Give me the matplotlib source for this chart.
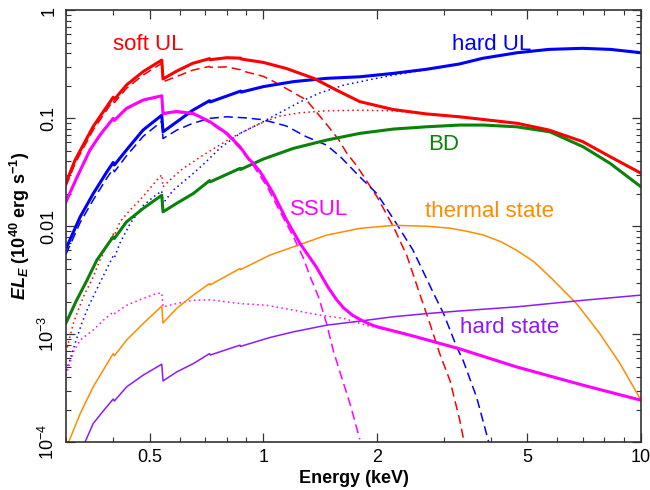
import matplotlib
matplotlib.use("Agg")

import matplotlib.pyplot as plt
from matplotlib.ticker import FixedLocator, LogLocator, NullFormatter

# -----------------------------
# DATA  (energy in keV, E*L_E in 1e40 erg/s)
# -----------------------------
E_SOFT_TOT = [0.30, 0.317, 0.354, 0.400, 0.403, 0.434, 0.48, 0.538, 0.542, 0.59, 0.65, 0.72, 0.723,
              0.80, 0.87, 0.873, 1.0, 1.15, 1.36, 1.56, 1.80, 2.2, 2.7, 3.3, 4.7, 5.7, 7.0, 8.3, 10.0]
SOFT_TOT   = [0.0253, 0.041, 0.084, 0.157, 0.150, 0.204, 0.271, 0.347, 0.232, 0.275, 0.324, 0.358, 0.350,
              0.365, 0.362, 0.355, 0.33, 0.29, 0.235, 0.183, 0.143, 0.121, 0.110, 0.1035, 0.090, 0.078, 0.061, 0.044, 0.031]

E_SOFT_DISK = [0.30, 0.317, 0.354, 0.40, 0.403, 0.434, 0.48, 0.538, 0.542, 0.59, 0.65, 0.72, 0.723, 0.80,
               0.87, 0.873, 1.0, 1.08, 1.3, 1.47, 1.58, 1.66, 1.77, 2.0, 2.21, 2.40, 2.60, 2.76, 2.93, 3.12, 3.31, 3.40]
SOFT_DISK   = [0.0235, 0.038, 0.078, 0.146, 0.140, 0.190, 0.252, 0.324, 0.218, 0.245, 0.280, 0.303, 0.297, 0.300,
               0.282, 0.277, 0.245, 0.214, 0.148, 0.088, 0.064, 0.048, 0.036, 0.0187, 0.0099, 0.0053, 0.0023, 0.00125,
               0.00066, 0.00037, 0.00016, 0.0001]

E_SOFT_PL = [0.30, 0.3136, 0.3231, 0.3366, 0.351, 0.369, 0.392, 0.40, 0.403, 0.417, 0.443, 0.471, 0.496, 0.522,
             0.538, 0.542, 0.577, 0.613, 0.652, 0.693, 0.752, 0.832, 0.94, 1.02, 1.106, 1.25, 1.47, 1.80, 2.21,
             2.7, 3.3, 4.7, 5.7, 7.0, 8.3, 10.0]
SOFT_PL   = [0.00068, 0.00125, 0.00167, 0.00238, 0.00316, 0.00485, 0.00743, 0.0085, 0.0082, 0.011, 0.0141,
             0.0175, 0.0216, 0.0268, 0.0300, 0.0232, 0.0287, 0.0344, 0.0396, 0.0457, 0.0545, 0.0675, 0.0836,
             0.0950, 0.105, 0.1127, 0.1175, 0.119, 0.1175, 0.110, 0.1035, 0.090, 0.078, 0.061, 0.044, 0.031]

E_HARD_TOT = [0.30, 0.327, 0.354, 0.385, 0.40, 0.403, 0.434, 0.48, 0.538, 0.542, 0.59, 0.65, 0.72, 0.723,
              0.87, 0.873, 1.0, 1.2, 1.47, 1.8, 2.2, 2.7, 3.3, 3.8, 4.7, 5.7, 7.0, 8.3, 10.0]
HARD_TOT   = [0.0062, 0.0122, 0.020, 0.032, 0.039, 0.037, 0.051, 0.078, 0.107, 0.075, 0.093, 0.119, 0.146, 0.142,
              0.179, 0.175, 0.197, 0.219, 0.235, 0.243, 0.261, 0.285, 0.319, 0.360, 0.406, 0.436, 0.446, 0.436, 0.406]

E_HARD_DISK = [0.30, 0.327, 0.354, 0.385, 0.40, 0.403, 0.434, 0.48, 0.538, 0.542, 0.59, 0.65, 0.72, 0.80, 0.90,
               1.0, 1.15, 1.30, 1.47, 1.6, 1.8, 2.0, 2.25, 2.49, 2.82, 3.0, 3.25, 3.38, 3.67, 3.95]
HARD_DISK   = [0.0055, 0.0108, 0.0175, 0.028, 0.034, 0.032, 0.045, 0.068, 0.094, 0.065, 0.078, 0.090, 0.100,
               0.1035, 0.101, 0.097, 0.085, 0.0675, 0.0565, 0.044, 0.0287, 0.020, 0.0106, 0.006, 0.0024, 0.00155,
               0.00076, 0.00057, 0.00026, 0.0001]

E_HARD_PL = [0.30, 0.307, 0.317, 0.33, 0.344, 0.358, 0.369, 0.392, 0.40, 0.403, 0.417, 0.443, 0.48, 0.511, 0.538,
             0.542, 0.577, 0.613, 0.652, 0.707, 0.767, 0.867, 0.98, 1.1, 1.25, 1.41, 1.63, 1.91, 2.21, 2.7, 3.3,
             3.8, 4.7, 5.7, 7.0, 8.3, 10.0]
HARD_PL   = [0.00046, 0.00057, 0.00082, 0.00125, 0.0018, 0.0024, 0.0030, 0.0046, 0.0053, 0.0051, 0.0070, 0.0105,
             0.0155, 0.0187, 0.0212, 0.0163, 0.0216, 0.0258, 0.0309, 0.040, 0.053, 0.0726, 0.090, 0.112, 0.142,
             0.172, 0.203, 0.228, 0.252, 0.283, 0.318, 0.360, 0.406, 0.436, 0.446, 0.436, 0.406]

E_BD = [0.30, 0.32, 0.341, 0.362, 0.40, 0.403, 0.434, 0.48, 0.538, 0.542, 0.589, 0.652, 0.72, 0.723, 0.867, 0.87,
        1.0, 1.2, 1.47, 1.80, 2.21, 2.71, 3.31, 3.82, 4.68, 5.74, 7.03, 8.28, 10.0]
BD   = [0.00127, 0.00206, 0.00316, 0.00485, 0.0080, 0.0077, 0.011, 0.0146, 0.0194, 0.0136, 0.0163, 0.0201, 0.0265,
        0.0258, 0.0344, 0.0336, 0.042, 0.0527, 0.0629, 0.0726, 0.0796, 0.0836, 0.0867, 0.0867, 0.0836, 0.075,
        0.0545, 0.0383, 0.0232]

E_SSUL_TOT = [0.30, 0.32, 0.347, 0.37, 0.40, 0.403, 0.434, 0.48, 0.538, 0.542, 0.589, 0.652, 0.722, 0.80, 0.867,
              0.912, 0.94, 0.98, 1.02, 1.062, 1.152, 1.25, 1.38, 1.485, 1.56, 1.63, 1.72, 1.80, 1.9, 2.0, 2.44,
              3.31, 4.68, 7.03, 10.0]
SSUL_TOT   = [0.0169, 0.028, 0.0508, 0.071, 0.100, 0.096, 0.124, 0.148, 0.162, 0.111, 0.116, 0.111, 0.093, 0.0726,
              0.0545, 0.0426, 0.0383, 0.032, 0.0255, 0.0201, 0.0114, 0.00692, 0.0042, 0.0027, 0.0021, 0.00175,
              0.0015, 0.00137, 0.00125, 0.00117, 0.00098, 0.00073, 0.000497, 0.000336, 0.000244]

E_SSUL_DISK = [0.30, 0.32, 0.347, 0.37, 0.40, 0.403, 0.434, 0.48, 0.538, 0.542, 0.589, 0.652, 0.722, 0.80, 0.867,
               0.94, 1.02, 1.106, 1.2, 1.275, 1.33, 1.40, 1.47, 1.53, 1.61, 1.695, 1.80]
SSUL_DISK   = [0.0165, 0.0273, 0.0498, 0.0697, 0.0984, 0.0944, 0.122, 0.146, 0.160, 0.109, 0.114, 0.109, 0.091,
               0.0706, 0.0526, 0.0364, 0.0237, 0.0137, 0.0080, 0.0051, 0.0034, 0.0022, 0.00125, 0.00071, 0.0004,
               0.000227, 0.000106]

E_SSUL_PL = [0.30, 0.3136, 0.327, 0.354, 0.377, 0.40, 0.403, 0.434, 0.48, 0.522, 0.538, 0.542, 0.589, 0.652, 0.722,
             0.867, 1.02, 1.2, 1.41, 1.63, 1.88, 2.0, 2.44, 3.31, 4.68, 7.03, 10.0]
SSUL_PL   = [0.000416, 0.00068, 0.00088, 0.00109, 0.00135, 0.0016, 0.00155, 0.00185, 0.00214, 0.00238, 0.0024,
             0.00179, 0.00192, 0.00206, 0.00208, 0.00192, 0.00185, 0.00167, 0.0015, 0.0014, 0.0012, 0.00115,
             0.00097, 0.00073, 0.000497, 0.000336, 0.000244]

E_THERMAL = [0.305, 0.327, 0.354, 0.40, 0.403, 0.434, 0.48, 0.538, 0.542, 0.589, 0.652, 0.72, 0.723, 0.867, 0.87,
             1.04, 1.2, 1.47, 1.80, 2.21, 2.71, 3.12, 3.45, 3.82, 4.25, 4.68, 5.2, 5.74, 6.75, 7.78, 8.80, 10.0]
THERMAL   = [0.0001, 0.000183, 0.000324, 0.00066, 0.00063, 0.00088, 0.00125, 0.00182, 0.00127, 0.00173, 0.0023,
             0.00294, 0.00286, 0.00406, 0.00396, 0.0054, 0.00644, 0.00827, 0.00955, 0.0102, 0.0100, 0.0096,
             0.0090, 0.0083, 0.0072, 0.006, 0.0047, 0.0034, 0.00192, 0.00101, 0.000533, 0.000244]

E_HARDST = [0.337, 0.354, 0.377, 0.40, 0.403, 0.434, 0.48, 0.538, 0.542, 0.589, 0.652, 0.72, 0.723, 0.867, 0.87,
            1.04, 1.2, 1.47, 1.80, 2.21, 2.71, 3.31, 4.68, 7.03, 10.0]
HARDST   = [0.0001, 0.000148, 0.000195, 0.000250, 0.000240, 0.000324, 0.000416, 0.000526, 0.000368, 0.000446,
            0.000533, 0.00066, 0.00064, 0.00079, 0.00077, 0.00093, 0.00105, 0.00121, 0.00132, 0.00145, 0.00155,
            0.00164, 0.00179, 0.00206, 0.0023]

X_TICKS  = [0.5, 1, 2, 5, 10]
X_LABELS = ["0.5", "1", "2", "5", "10"]
Y_TICKS  = [1e-4, 1e-3, 1e-2, 1e-1, 1]
Y_LABELS = [r"$\mathregular{10^{-4}}$", r"$\mathregular{10^{-3}}$", "0.01", "0.1", "1"]

# -----------------------------
# STYLE
# -----------------------------
RED     = "#ff0000"
BLUE    = "#0000ff"
GREEN   = "#0a820a"
MAGENTA = "#ff00ff"
ORANGE  = "#ff8c00"
PURPLE  = "#8c1aff"

THICK = 2.2
THIN  = 1.1
DASH  = (6, 3.2)
DOT   = (1, 2.2)

plt.rcParams["font.family"] = ["Liberation Sans", "DejaVu Sans"]
plt.rcParams["mathtext.fontset"] = "custom"
plt.rcParams["mathtext.it"] = "Liberation Sans:italic:bold"
plt.rcParams["mathtext.rm"] = "Liberation Sans:bold"
plt.rcParams["lines.solid_joinstyle"] = "round"

fig = plt.figure(figsize=(6.5, 4.9), dpi=100)
ax = fig.add_axes([66 / 650, 48 / 490, 575 / 650, 431.5 / 490])
ax.set_xscale("log")
ax.set_yscale("log")

# components (dotted = power law, dashed = disk)
ax.plot(E_SOFT_PL, SOFT_PL, color=RED, lw=THIN, dashes=DOT)
ax.plot(E_HARD_PL, HARD_PL, color=BLUE, lw=THIN, dashes=DOT)
ax.plot(E_SSUL_PL, SSUL_PL, color=MAGENTA, lw=THIN, dashes=DOT)
ax.plot(E_SOFT_DISK, SOFT_DISK, color=RED, lw=THIN, dashes=DASH)
ax.plot(E_HARD_DISK, HARD_DISK, color=BLUE, lw=THIN, dashes=DASH)
ax.plot(E_SSUL_DISK, SSUL_DISK, color=MAGENTA, lw=THIN, dashes=DASH)

# reference states
ax.plot(E_THERMAL, THERMAL, color=ORANGE, lw=THIN)
ax.plot(E_HARDST, HARDST, color=PURPLE, lw=THIN)

# totals
ax.plot(E_BD, BD, color=GREEN, lw=THICK)
ax.plot(E_HARD_TOT, HARD_TOT, color=BLUE, lw=THICK)
ax.plot(E_SOFT_TOT, SOFT_TOT, color=RED, lw=THICK)
ax.plot(E_SSUL_TOT, SSUL_TOT, color=MAGENTA, lw=THICK)

# curve labels
ax.text(0.40, 0.43, "soft UL", color=RED, fontsize=16, va="baseline")
ax.text(3.15, 0.43, "hard UL", color=BLUE, fontsize=16, va="baseline")
ax.text(2.73, 0.0508, "BD", color=GREEN, fontsize=16, va="baseline")
ax.text(1.176, 0.01267, "SSUL", color=MAGENTA, fontsize=16, va="baseline")
ax.text(2.68, 0.0122, "thermal state", color=ORANGE, fontsize=16, va="baseline")
ax.text(3.31, 0.00103, "hard state", color=PURPLE, fontsize=16, va="baseline")

# -----------------------------
# AXES
# -----------------------------
ax.set_xlim(0.3, 10)
ax.set_ylim(1e-4, 1)

ax.xaxis.set_major_locator(FixedLocator(X_TICKS))
ax.set_xticklabels(X_LABELS)
ax.xaxis.set_minor_locator(LogLocator(base=10, subs=range(2, 10)))
ax.xaxis.set_minor_formatter(NullFormatter())

ax.yaxis.set_major_locator(FixedLocator(Y_TICKS))
ax.set_yticklabels(Y_LABELS, rotation=90, va="center")
ax.yaxis.set_minor_locator(LogLocator(base=10, subs=range(2, 10)))
ax.yaxis.set_minor_formatter(NullFormatter())

ax.tick_params(which="both", direction="in", top=True, right=True, color="#333333", labelsize=13)
ax.tick_params(which="major", length=6.5, width=0.9)
ax.tick_params(which="minor", length=3.3, width=0.8)
ax.tick_params(axis="x", pad=5)
ax.tick_params(axis="y", pad=6)

for s in ax.spines.values():
    s.set_linewidth(1.2)
    s.set_color("#333333")

ax.set_xlabel("Energy (keV)", fontsize=13, fontweight="bold")
ax.set_ylabel(r"$EL_E$ $\mathregular{(10^{40}\ erg\ s^{-1})}$", fontsize=13, fontweight="bold")
ax.xaxis.set_label_coords(0.5, -0.064)
ax.yaxis.set_label_coords(-0.059, 0.5)

fig.savefig("out.png", dpi=100)
